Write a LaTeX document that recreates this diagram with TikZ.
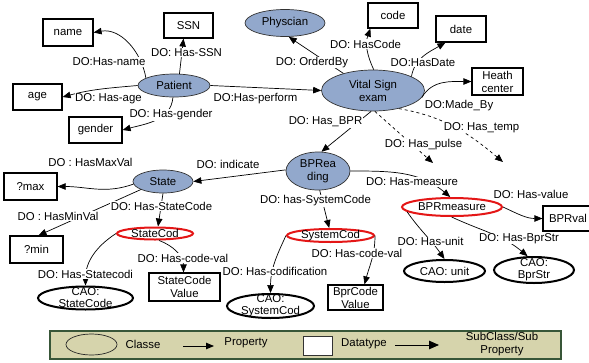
\documentclass[tikz,border=0pt]{standalone}
\usepackage{fontspec}
\setmainfont{Liberation Sans}
\usetikzlibrary{shapes.geometric,arrows.meta}
\definecolor{clsblue}{RGB}{146,168,204}
\definecolor{legfill}{RGB}{214,212,172}
\definecolor{legline}{RGB}{56,86,56}
\definecolor{codred}{RGB}{228,22,22}
\tikzset{
    every node/.style={font=\fontsize{11.4}{13}\selectfont},
    cls/.style={shape=ellipse,draw=black!80,fill=clsblue,line width=0.7pt,inner sep=0pt,align=center},
    dtype/.style={shape=rectangle,draw=black,line width=1.2pt,inner sep=1pt,align=center},
    cod/.style={shape=ellipse,draw=codred,line width=2pt,fill=white,inner sep=0pt},
    cao/.style={shape=ellipse,draw=black,line width=2pt,fill=white,inner sep=0pt},
    caotext/.style={align=center,font=\fontsize{11.4}{12}\selectfont},
    lbl/.style={fill=white,inner sep=0.6pt},
    prop/.style={line width=0.7pt}
}
\begin{document}
\begin{tikzpicture}[x=1pt,y=1pt,>={Triangle[length=8pt,width=6.5pt]}]
                \useasboundingbox (0,0) rectangle (589,-362);

                % classes
                \node[cls,minimum width=80,minimum height=27] (physcian) at (285,-23) {Physcian};
                \node[cls,minimum width=72,minimum height=23] (patient) at (174,-85.5) {Patient};
                \node[cls,minimum width=103,minimum height=41] (vital) at (373,-90.5) {Vital Sign\\exam};
                \node[cls,minimum width=64,minimum height=38] (bpr) at (318,-171) {BPRea\\ding};
                \node[cls,minimum width=60,minimum height=23] (state) at (163,-181.5) {State};

                % datatypes
                \node[dtype,minimum width=50,minimum height=27] (name) at (68,-32.5) {name};
                \node[dtype,minimum width=49,minimum height=25] (ssn) at (188.5,-25.5) {SSN};
                \node[dtype,minimum width=49,minimum height=26] (age) at (37.5,-97) {age};
                \node[dtype,minimum width=53,minimum height=26] (gender) at (95.5,-130) {gender};
                \node[dtype,minimum width=50,minimum height=25] (code) at (393,-15.5) {code};
                \node[dtype,minimum width=50,minimum height=26] (date) at (461,-29) {date};
                \node[dtype,minimum width=51,minimum height=27] (heath) at (497.5,-81.5) {Heath\\center};
                \node[dtype,minimum width=53,minimum height=27] (qmax) at (30.5,-186.5) {?max};
                \node[dtype,minimum width=53,minimum height=27] (qmin) at (36.5,-249.5) {?min};
                \node[dtype,minimum width=71,minimum height=28] (scv) at (184.5,-287) {StateCode\\Value};
                \node[dtype,minimum width=55,minimum height=25] (bcv) at (355.5,-297.5) {BprCode\\Value};
                \node[dtype,minimum width=50,minimum height=25] (bprval) at (568,-218.5) {BPRval};

                % sub classes
                \node[cod,minimum width=76,minimum height=12,label={center:StateCod}] (statec) at (155,-233.5) {};
                \node[cod,minimum width=87,minimum height=13,label={center:SystemCod}] (sysc) at (330.5,-235.5) {};
                \node[cod,minimum width=100,minimum height=18,label={center:BPRmeasure}] (bprm) at (452,-207) {};
                \node[cao,minimum width=95,minimum height=23,label={[caotext]center:{CAO:\\StateCode}}] (caost) at (85.5,-298) {};
                \node[cao,minimum width=87,minimum height=24,label={[caotext]center:{CAO:\\SystemCod}}] (caosy) at (270.5,-306) {};
                \node[cao,minimum width=81,minimum height=22,label={center:{CAO: unit}}] (caou) at (444.5,-271) {};
                \node[cao,minimum width=80,minimum height=26,label={[caotext]center:{CAO:\\BprStr}}] (caob) at (534,-270) {};

                \coordinate (pulse) at (433,-163);
                \coordinate (temp) at (503,-162);

                \path [->,prop] (patient.165) edge [out=100,in=10] (name.east);
                \path [->,prop] (patient.65) edge ([xshift=-5pt]ssn.south);
                \path [->,prop] (patient.180) edge [out=185,in=15] (age.east);
                \path [->,prop] (patient.265) edge [out=-95,in=15] (gender.east);
                \path [->,prop] (patient.east) edge (vital.west);
                \path [->,prop] (vital.150) edge (physcian.-75);
                \path [->,prop] (vital.88) edge [out=115,in=-110] ([xshift=3pt]code.south west);
                \path [->,prop] (vital.20) edge [out=80,in=-150] ([xshift=10pt]date.south west);
                \path [->,prop] (vital.-8) edge [out=60,in=180] (heath.west);
                \path [->,prop] (vital.-95) edge (bpr.80);
                \path [->,prop,dashed] (vital.-85) edge (pulse);
                \path [->,prop,dashed] (vital.-35) edge [out=-10,in=140] (temp);
                \path [->,prop] (bpr.178) edge (state.east);
                \path [->,prop] (bpr.east) edge [out=0,in=140] (bprm.100);
                \path [->,prop] (bpr.-85) edge (sysc.100);
                \path [->,prop] (state.185) edge [out=200,in=0] (qmax.east);
                \path [->,prop] (state.200) edge ([xshift=2pt]qmin.north);
                \path [->,prop] (state.south) edge ([xshift=3pt]statec.north);
                \path [->,prop] (statec.west) edge [out=-147,in=90] (caost.north);
                \path [->,prop] (statec.-60) edge [out=-20,in=90] ([xshift=-1pt]scv.north);
                \path [->,prop] (sysc.west) edge [out=-115,in=90] (caosy.north);
                \path [->,prop] (sysc.east) edge [out=-90,in=75] ([xshift=9pt]bcv.north);
                \path [->,prop] (bprm.east) edge [out=-25,in=180] (bprval.west);
                \path [->,prop] (bprm.186) edge [out=-55,in=125] (caou.north);
                \path [->,prop] (bprm.-92) edge [out=-25,in=140] (caob.115);

                % property labels
                \node[lbl] (l-name) at (109,-62) {DO:Has-name};
                \node[lbl] (l-ssn) at (186.5,-52.5) {DO: Has-SSN};
                \node[lbl] (l-age) at (108.5,-98.5) {DO: Has-age};
                \node[lbl] (l-gender) at (171,-115) {DO: Has-gender};
                \node[lbl] (l-perform) at (255.5,-98.5) {DO:Has-perform};
                \node[lbl] (l-orderd) at (312,-62.5) {DO: OrderdBy};
                \node[lbl] (l-code) at (365.5,-44) {DO: HasCode};
                \node[lbl] (l-date) at (423,-62.5) {DO:HasDate};
                \node[lbl] (l-made) at (459,-105.5) {DO:Made\_By};
                \node[lbl] (l-bpr) at (325.5,-122) {DO: Has\_BPR};
                \node[lbl] (l-pulse) at (423.5,-145) {DO: Has\_pulse};
                \node[lbl] (l-temp) at (481.5,-127.5) {DO: Has\_temp};
                \node[lbl] (l-indicate) at (228,-164) {DO: indicate};
                \node[lbl] (l-measure) at (412,-182) {DO: Has-measure};
                \node[lbl] (l-syscode) at (315.5,-201) {DO: has-SystemCode};
                \node[lbl] (l-max) at (90.5,-162.5) {DO : HasMaxVal};
                \node[lbl] (l-min) at (58,-216) {DO : HasMinVal};
                \node[lbl] (l-statecode) at (161.5,-206) {DO: Has-StateCode};
                \node[lbl] (l-statecodi) at (85.5,-274) {DO: Has-Statecodi};
                \node[lbl] (l-codeval) at (183,-258) {DO: Has-code-val};
                \node[lbl] (l-codif) at (275,-271.5) {DO: Has-codification};
                \node[lbl] (l-codeval2) at (357,-253) {DO: Has-code-val};
                \node[lbl] (l-value) at (531,-194) {DO: Has-value};
                \node[lbl] (l-unit) at (430.5,-241.5) {DO: Has-unit};
                \node[lbl] (l-bprstr) at (519,-238.5) {DO: Has-BprStr};

                % legend
                \node[draw=legline,fill=legfill,line width=1.2pt,inner sep=0pt,minimum width=511,minimum height=28] (legend) at (305.5,-345) {};
                \node[shape=ellipse,draw=black!85,line width=0.7pt,minimum width=51,minimum height=21] (lgcls) at (91.5,-344.5) {};
                \node (lgclstxt) at (143,-344) {Classe};
                \coordinate (lgp1) at (183,-346);
                \coordinate (lgp2) at (214,-346);
                \path [->,line width=0.9pt] (lgp1) edge (lgp2);
                \node (lgproptxt) at (246,-343) {Property};
                \node[draw=black!80,fill=white,line width=0.8pt,minimum width=29,minimum height=19] (lgdt) at (317.5,-345.5) {};
                \node (lgdttxt) at (364,-344) {Datatype};
                \coordinate (lgs1) at (395,-345);
                \coordinate (lgs2) at (439,-345);
                \path [->,line width=1pt,>={Triangle[length=10pt,width=8.5pt]}] (lgs1) edge (lgs2);
                \node[align=center,font=\fontsize{11.4}{13}\selectfont] (lgsubtxt) at (502,-344.5) {SubClass/Sub\\Property};
            \end{tikzpicture}
\end{document}
